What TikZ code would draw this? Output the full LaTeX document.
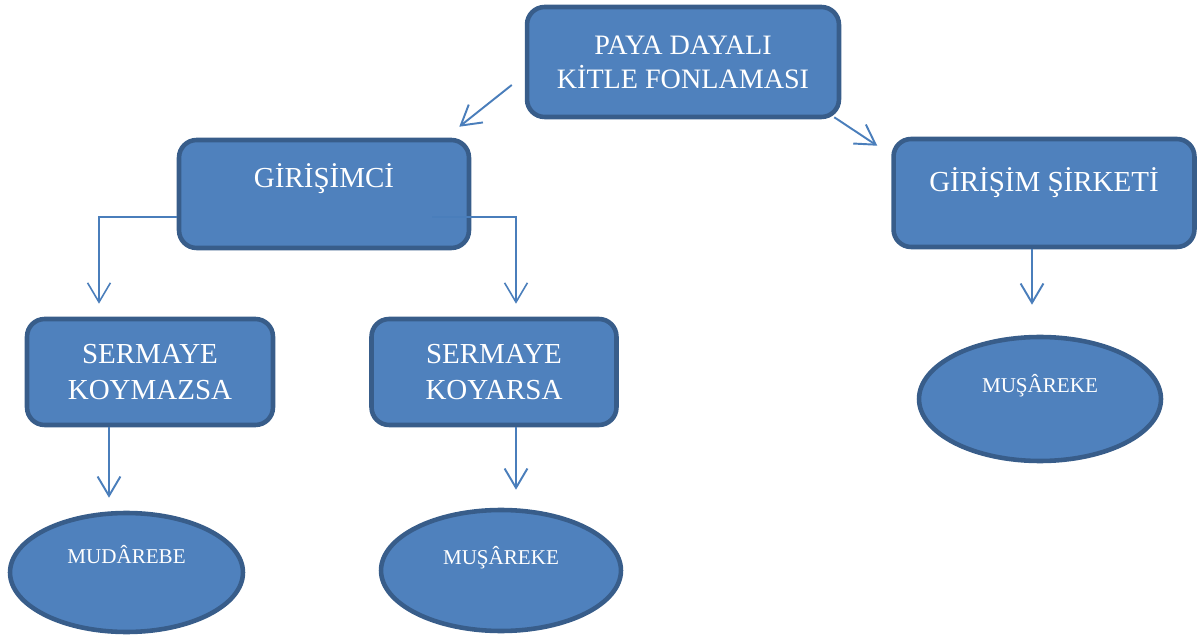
\documentclass[tikz,border=0pt]{standalone}
\usepackage{fontspec}
\setmainfont{Liberation Serif}
\definecolor{boxfill}{RGB}{79, 129, 189}
\definecolor{boxedge}{RGB}{56, 93, 138}
\definecolor{linkblue}{RGB}{74, 126, 187}
\usetikzlibrary{shapes.geometric, arrows.meta, positioning, calc}

\begin{document}
\begin{tikzpicture}[x=0.02cm, y=-0.02cm,
    fundbox/.style={draw=boxedge, fill=boxfill, line width=2.6pt, rounded corners=10pt, inner sep=0pt},
    fundoval/.style={ellipse, draw=boxedge, fill=boxfill, line width=2.6pt, inner sep=0pt},
    boxtext/.style={text=white, align=center, font=\fontsize{16.5}{21}\selectfont},
    ovaltext/.style={text=white, anchor=base, font=\fontsize{12}{14}\selectfont},
    link/.style={draw=linkblue, line width=1.1pt, -{Straight Barb[length=11pt, width=13pt]}}]
  \useasboundingbox (0,0) rectangle (1197,638);

  % === Boxes ===
  \node[fundbox, boxtext, font=\fontsize{16}{19.5}\selectfont, minimum width=6.24cm, minimum height=2.2cm]
    (paya) at (683,62) {PAYA DAYALI\\KİTLE FONLAMASI};
  \node[fundbox, minimum width=5.8cm, minimum height=2.16cm] (gir) at (324,194) {};
  \node[fundbox, minimum width=6.02cm, minimum height=2.16cm] (sirk) at (1044,193) {};
  \node[fundbox, boxtext, minimum width=4.92cm, minimum height=2.12cm]
    (koymaz) at (150,372) {SERMAYE\\KOYMAZSA};
  \node[fundbox, boxtext, minimum width=4.9cm, minimum height=2.12cm]
    (koyar) at (494,372) {SERMAYE\\KOYARSA};

  % Box labels
  \node[boxtext, anchor=base] (girtext) at ([shift={(0,-6)}]gir.center) {GİRİŞİMCİ};
  \node[boxtext, anchor=base] (sirktext) at ([shift={(0,-1.5)}]sirk.center) {GİRİŞİM ŞİRKETİ};

  % === Ovals ===
  \node[fundoval, minimum width=4.66cm, minimum height=2.38cm] (mud) at (126.5,572.5) {};
  \node[fundoval, minimum width=4.8cm, minimum height=2.42cm] (musl) at (501,570.5) {};
  \node[fundoval, minimum width=4.84cm, minimum height=2.48cm] (musr) at (1040,399) {};

  \node[ovaltext] (mudtext) at ([shift={(0,-9.5)}]mud.center) {MUDÂREBE};
  \node[ovaltext] (musltext) at ([shift={(0,-6.5)}]musl.center) {MUŞÂREKE};
  \node[ovaltext] (musrtext) at ([shift={(0,-6)}]musr.center) {MUŞÂREKE};

  % === Connectors ===
  \draw[link] ([shift={(-13,23)}]paya.west) -- ([shift={(-12,-11)}]gir.north east);
  \draw[link] ([shift={(-7,-2)}]paya.south east) -- ([shift={(-14,9)}]sirk.north west);
  \draw[link, line width=0.9pt] ([shift={(0,23)}]gir.west) -| ([shift={(-51,-13)}]koymaz.north);
  \draw[link, line width=0.9pt] ([shift={(-39,23)}]gir.east) -| ([shift={(22,-13)}]koyar.north);
  \draw[link] ([shift={(-41,0)}]koymaz.south) -- ([shift={(-17.5,-13)}]mud.north);
  \draw[link] ([shift={(22,0)}]koyar.south) -- ([shift={(15,-18)}]musl.north);
  \draw[link] ([shift={(-12,0)}]sirk.south) -- ([shift={(-8,-30)}]musr.north);
\end{tikzpicture}
\end{document}
